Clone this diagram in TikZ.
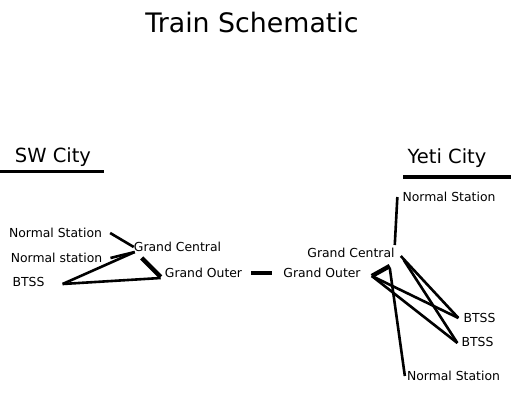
\documentclass[tikz,border=0pt]{standalone}
\usepackage{fontspec}
\setmainfont{DejaVu Sans}
\usepackage{tikz}
\usetikzlibrary{positioning}

\begin{document}
\begin{tikzpicture}[x=1pt,y=-1pt,
   stn/.style={inner sep=0pt,font=\fontsize{12.4}{14}\selectfont},
   city/.style={inner sep=0pt,font=\fontsize{19.5}{22}\selectfont},
   track/.style={line width=2.6pt},
   mainline/.style={line width=4.4pt}]
  \useasboundingbox (0,0) rectangle (511,409);
  \node[inner sep=0pt,font=\fontsize{26.8}{30}\selectfont] (title) at (252,23) {Train Schematic};
  % cities
  \node[city] (sw) at (53,157) {SW City};
  \node[city] (yeti) at (447,158) {Yeti City};
  \draw[line width=3.4pt] (0,171.5) -- (104,171.5);
  \draw[line width=3.8pt] (403,177) -- (511,177);
  % SW City stations
  \node[stn] (nsA) at (55.5,233) {Normal Station};
  \node[stn] (nsB) at (56.5,258) {Normal station};
  \node[stn] (btL) at (28.5,282) {BTSS};
  \node[stn] (gcL) at (177.5,247) {Grand Central};
  \node[stn] (goL) at (203.5,273) {Grand Outer};
  % Yeti City stations
  \node[stn] (goR) at (322,273) {Grand Outer};
  \node[stn] (gcR) at (351,253) {Grand Central};
  \node[stn] (nsT) at (449,197) {Normal Station};
  \node[stn] (btU) at (479.5,318) {BTSS};
  \node[stn] (btD) at (477.5,342) {BTSS};
  \node[stn] (nsD) at (453.5,376) {Normal Station};
  % lines
  \draw[track] ([xshift=8pt]nsA.east) -- (gcL.west);
  \draw[track] ([xshift=8pt]nsB.east) -- ([xshift=1pt]gcL.south west);
  \draw[track] ([xshift=18pt,yshift=-2pt]btL.east) -- ([xshift=1pt]gcL.south west);
  \draw[track] ([xshift=18pt,yshift=-2pt]btL.east) -- ([xshift=-4pt]goL.south west);
  \draw[mainline] ([xshift=8pt,yshift=-6pt]gcL.south west) -- ([xshift=-4pt,yshift=1pt]goL.south west);
  \draw[mainline] ([xshift=9pt]goL.east) -- ([xshift=-11pt]goR.west);
  \draw[track] ([xshift=-5pt]nsT.west) -- ([yshift=3pt]gcR.north east);
  \draw[track] ([xshift=6pt,yshift=-3pt]gcR.east) -- ([xshift=-5pt]btU.west);
  \draw[track] ([xshift=9pt,yshift=-7pt]gcR.east) -- ([xshift=-4pt,yshift=-1pt]btD.west);
  \draw[track] ([xshift=11pt,yshift=-3pt]goR.east) -- ([xshift=-5pt]btU.west);
  \draw[track] ([xshift=11pt,yshift=-3pt]goR.east) -- ([xshift=-4pt,yshift=-1pt]btD.west);
  \draw[mainline] ([xshift=11pt,yshift=-3pt]goR.east) -- ([xshift=-5pt,yshift=-8pt]gcR.south east);
  \draw[track] ([xshift=-5pt,yshift=-10pt]gcR.south east) -- ([xshift=-2pt]nsD.west);
\end{tikzpicture}
\end{document}
